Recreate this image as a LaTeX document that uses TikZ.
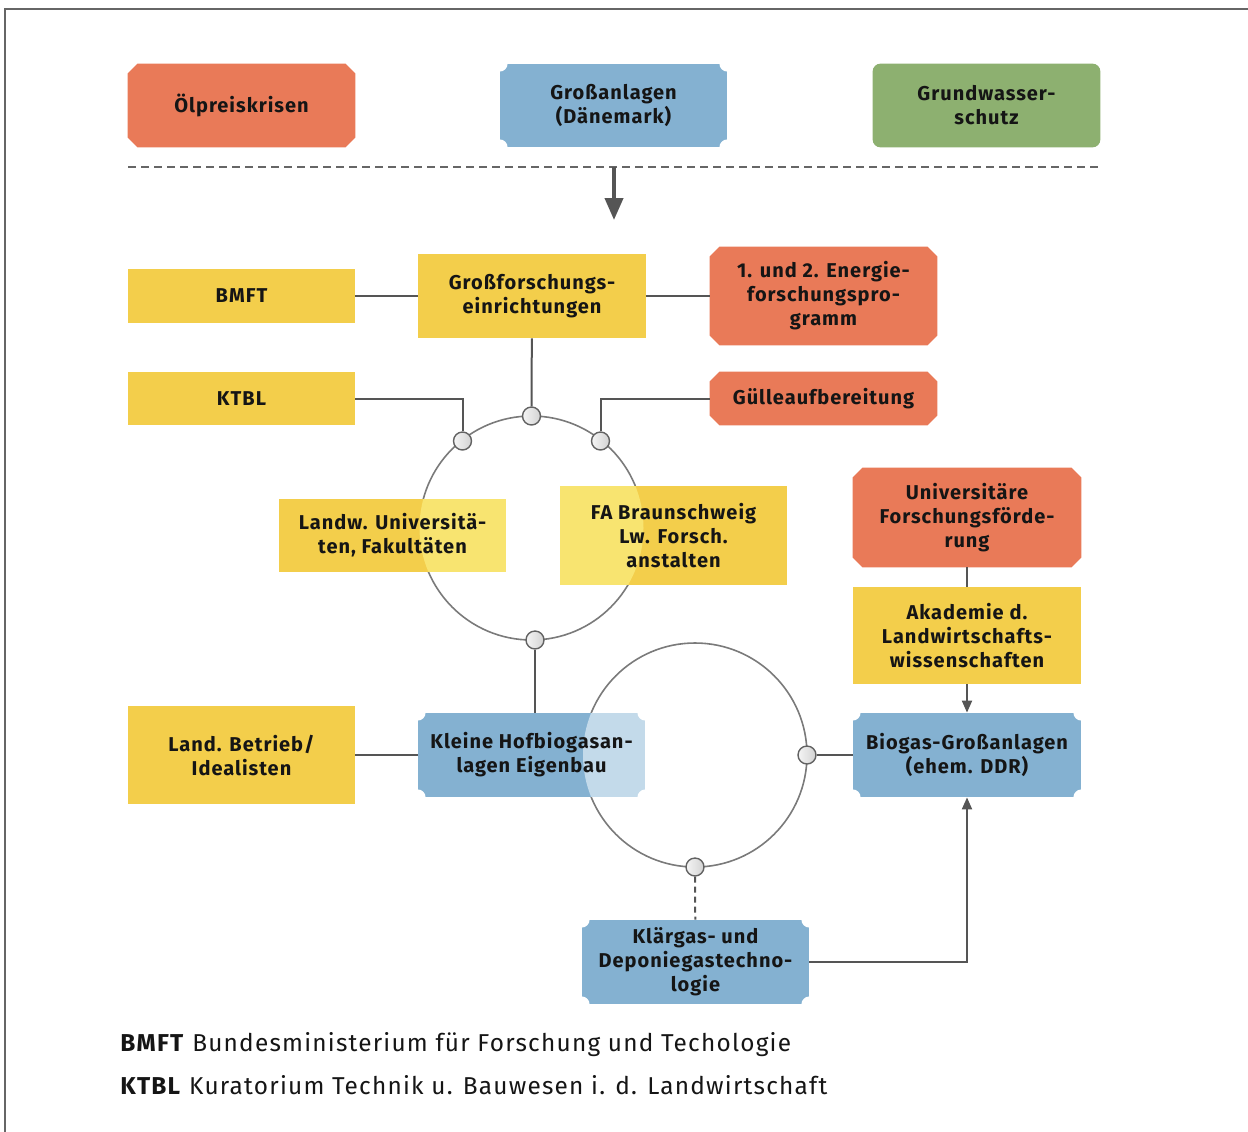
\documentclass[tikz,border=0pt]{standalone}
\usepackage{fontspec}
\setmainfont{Fira Sans}
\newfontfamily\boxfont{Fira Sans}[LetterSpace=5]
\newfontfamily\legendfont{Fira Sans}[LetterSpace=5]
\usetikzlibrary{arrows.meta}
\usetikzlibrary{shadings}

\definecolor{boxorange}{HTML}{E97A58}
\definecolor{boxblue}{HTML}{84B1D1}
\definecolor{boxgreen}{HTML}{8DB070}
\definecolor{boxyellow}{HTML}{F3CE4B}
\definecolor{lightyellow}{HTML}{F8E470}
\definecolor{lightblue}{HTML}{C3DAEA}
\definecolor{linegray}{HTML}{555555}
\definecolor{ringgray}{HTML}{7A7A7A}
\definecolor{textblack}{HTML}{151515}

\pgfdeclarelayer{ringline}
\pgfdeclarelayer{boxes}
\pgfdeclarelayer{ringfill}
\pgfsetlayers{ringline,boxes,ringfill,main}

\tikzset{
  box/.style={inner sep=0pt, align=center, text=textblack, minimum width=113.5pt,
    font=\boxfont\bfseries\fontsize{10}{12}\selectfont},
  link/.style={draw=linegray, line width=1pt},
  dashlink/.style={draw=linegray, line width=1pt, dash pattern=on 3pt off 2pt},
  ring/.style={draw=ringgray, line width=0.8pt},
  port/.style={circle, draw=ringgray!80!black, line width=0.7pt, minimum size=9pt,
    inner sep=0pt, left color=gray!8, right color=gray!35},
  smallarrow/.style={link, -{Triangle[width=5pt,length=6pt]}},
  legend/.style={anchor=west, inner sep=0pt, text=textblack,
    font=\legendfont\fontsize{12.2}{14}\selectfont}
}

\begin{document}
\begin{tikzpicture}[x=0.5pt,y=-0.5pt]
\useasboundingbox (0,0) rectangle (1248,1131);

\draw[linegray!90, line width=1pt] (5,1140) -- (5,9) -- (1260,9);

% top row
\node[box, minimum height=41.5pt] (oel)  at (241.5,105.5) {Ölpreiskrisen};
\node[box, minimum height=41.5pt] (daen) at (613.5,105.5) {Großanlagen\\(Dänemark)};
\node[box, minimum height=41.5pt] (grund) at (986.5,105.5) {Grundwasser-\\schutz};

\coordinate (sepl) at (128,167);
\coordinate (sepr) at (1100,167);
\coordinate (sep) at (614,167);
\coordinate (sepend) at (614,220);
\draw[linegray!90, line width=0.7pt, dash pattern=on 4pt off 2.5pt] (sepl) -- (sepr);
\draw[linegray, line width=2pt, -{Triangle[width=9pt,length=11pt]}] (sep) -- (sepend);

% research
\node[box, minimum height=26.5pt] (bmft) at (241.5,296) {BMFT};
\node[box, minimum height=42pt] (gross) at (532,296) {Großforschungs-\\einrichtungen};
\node[box, minimum height=49pt] (energie) at (823.5,296) {1. und 2. Energie-\\forschungspro-\\gramm};
\node[box, minimum height=26.5pt] (ktbl) at (241.5,398.5) {KTBL};
\node[box, minimum height=26.5pt] (guelle) at (823.5,398.5) {Gülleaufbereitung};
\node[box, minimum height=36.5pt] (landw) at (392.5,535.5) {Landw. Universitä-\\ten, Fakultäten};
\node[box, minimum height=49.5pt] (fa) at (673.5,535.5) {FA Braunschweig\\Lw. Forsch.\\anstalten};
\node[box, minimum height=49.5pt, minimum width=114pt] (univ) at (967,517.5) {Universitäre\\Forschungsförde-\\rung};
\node[box, minimum height=48.5pt, minimum width=114pt] (akad) at (967,635.5) {Akademie d.\\Landwirtschafts-\\wissenschaften};

% practice
\node[box, minimum height=48.5pt] (land) at (241.5,755) {Land. Betrieb/\\Idealisten};
\node[box, minimum height=42pt] (kleine) at (531.5,755) {Kleine Hofbiogasan-\\lagen Eigenbau};
\node[box, minimum height=42pt, minimum width=114pt] (biogas) at (967,755) {Biogas-Großanlagen\\(ehem. DDR)};
\node[box, minimum height=42pt] (klaer) at (695.5,962) {Klärgas- und\\Deponiegastechno-\\logie};

% rings
\coordinate (ringa) at (531.5,528);
\coordinate (ringb) at (695,755);
\begin{pgfonlayer}{ringline}
\draw[ring] (ringa) circle[radius=56pt];
\draw[ring] (ringb) circle[radius=56pt];
\end{pgfonlayer}
\begin{pgfonlayer}{ringfill}
\begin{scope}
\clip (ringa) circle[radius=56pt];
\foreach \n in {landw,fa}
  \fill[lightyellow] (\n.north west) rectangle (\n.south east);
\end{scope}
\begin{scope}
\clip (ringb) circle[radius=56pt];
\fill[lightblue] (kleine.north west) rectangle (kleine.south east);
\fill[white] (kleine.north east) circle[radius=4pt];
\fill[white] (kleine.south east) circle[radius=4pt];
\end{scope}
\end{pgfonlayer}

\node[port] (pa) at (531.5,416) {};
\node[port] (pb) at (462.5,441) {};
\node[port] (pc) at (600.5,441) {};
\node[port] (pd) at (535,640) {};
\node[port] (pe) at (807,755) {};
\node[port] (pf) at (695,867) {};

% box fills
\begin{pgfonlayer}{boxes}
\foreach \n in {bmft,ktbl,gross,landw,fa,akad,land}
  \fill[boxyellow] (\n.north west) rectangle (\n.south east);
\foreach \n in {oel,energie,guelle,univ}
  \fill[boxorange] ([xshift=5pt]\n.north west) -- ([xshift=-5pt]\n.north east)
    -- ([yshift=-5pt]\n.north east) -- ([yshift=5pt]\n.south east)
    -- ([xshift=-5pt]\n.south east) -- ([xshift=5pt]\n.south west)
    -- ([yshift=5pt]\n.south west) -- ([yshift=-5pt]\n.north west) -- cycle;
\foreach \n in {daen,kleine,biogas,klaer} {
  \fill[boxblue] (\n.north west) rectangle (\n.south east);
  \foreach \c in {north west,north east,south west,south east}
    \fill[white] (\n.\c) circle[radius=4pt];
}
\fill[boxgreen, rounded corners=4pt] (grund.north west) rectangle (grund.south east);
\end{pgfonlayer}

% connectors
\draw[link] (bmft) -- (gross);
\draw[link] (gross) -- (energie);
\draw[link] (gross) -- (pa);
\draw[link] (ktbl.east) -| (pb);
\draw[link] (guelle.west) -| (pc);
\draw[link] (pd) -- (pd |- kleine.north);
\draw[link] (land) -- (kleine);
\draw[link] (pe) -- (biogas);
\draw[dashlink] (pf) -- (klaer);
\draw[link] (univ) -- (akad);
\draw[smallarrow] (akad) -- (biogas);
\draw[smallarrow] (klaer.east) -| (biogas.south);

% legend
\node[legend] (leg1) at (120,1045) {\textbf{BMFT} Bundesministerium für Forschung und Techologie};
\node[legend] (leg2) at (120,1085) {\textbf{KTBL} Kuratorium Technik u. Bauwesen i. d. Landwirtschaft};

\end{tikzpicture}
\end{document}
